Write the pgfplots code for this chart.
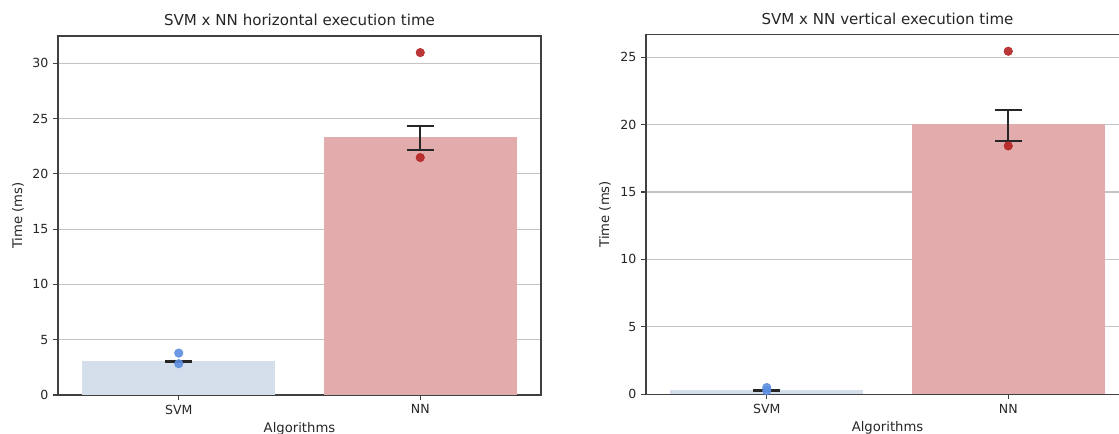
\documentclass[border=0pt]{standalone}
\usepackage{pgfplots}
\pgfplotsset{compat=1.18}
\usepackage{fontspec}
\setmainfont{DejaVu Sans}

\definecolor{svmbar}{RGB}{213,223,235}
\definecolor{nnbar}{RGB}{227,172,172}
\definecolor{svmpt}{RGB}{92,142,224}
\definecolor{nnpt}{RGB}{180,34,34}
\definecolor{spine}{RGB}{64,64,64}
\definecolor{gridc}{RGB}{196,196,196}
\definecolor{txt}{RGB}{38,38,38}

\pgfplotsset{
  exectime/.style={
    scale only axis, width=362.25pt,
    xmin=-0.5, xmax=1.5, ymin=0,
    xtick={0,1}, xticklabels={SVM,NN},
    ytick distance=5,
    tick pos=left, tick align=outside,
    major tick length=3.75pt,
    every tick/.style={spine, line width=0.8pt},
    axis line style={spine, line width=0.8pt},
    ymajorgrids, grid style={gridc, line width=0.8pt},
    ticklabel style={font=\fontsize{9.4}{11}\selectfont, text=txt},
    /pgf/number format/assume math mode=true,
    label style={font=\fontsize{9.9}{12}\selectfont, text=txt},
    title style={font=\fontsize{11.3}{13}\selectfont, text=txt,
      at={(axis description cs:0.5,1)}, anchor=base, yshift=1.5pt},
    xlabel={Algorithms},
    xlabel style={at={(axis description cs:0.5,0)}, anchor=base, yshift=-27.75pt},
    ylabel={Time (ms)},
    errbar/.style={draw=none, mark=none, forget plot,
      error bars/.cd, y dir=both, y explicit,
      error bar style={txt, line width=1.5pt},
      error mark options={txt, line width=1.5pt, mark size=10.3pt, rotate=90}},
  },
}

\begin{document}
\begin{tikzpicture}
\useasboundingbox (0,0) rectangle (839.25pt,-325.5pt);

% horizontal
\begin{axis}[exectime, at={(43.5pt,-296.25pt)}, anchor=south west,
    height=269.25pt, ymax=32.46,
    title={SVM x NN horizontal execution time},
    ylabel style={at={(axis description cs:-0.0828,0.5)}, anchor=center}]
  \addplot[ybar, bar width=0.8, bar shift=0pt, fill=svmbar, draw=none]
    coordinates {(0,3.03)};
  \addplot[ybar, bar width=0.8, bar shift=0pt, fill=nnbar, draw=none]
    coordinates {(1,23.34)};
  \addplot[only marks, mark=*, mark size=3.2pt, svmpt, fill opacity=0.9, draw opacity=0.9]
    coordinates {(0,3.79) (0,2.83)};
  \addplot[only marks, mark=*, mark size=3.2pt, nnpt, fill opacity=0.9, draw opacity=0.9]
    coordinates {(1,30.96) (1,21.47)};
  \addplot[errbar] coordinates {
    (0,3.03) += (0,0.06) -= (0,0.06)
    (1,23.34) += (0,0.99) -= (0,1.15)};
\end{axis}

% vertical
\begin{axis}[exectime, at={(484.5pt,-295.7pt)}, anchor=south west,
    height=270pt, ymax=26.7,
    title={SVM x NN vertical execution time},
    ylabel style={at={(axis description cs:-0.0849,0.5)}, anchor=center}]
  \addplot[ybar, bar width=0.8, bar shift=0pt, fill=svmbar, draw=none]
    coordinates {(0,0.34)};
  \addplot[ybar, bar width=0.8, bar shift=0pt, fill=nnbar, draw=none]
    coordinates {(1,20.03)};
  \addplot[only marks, mark=*, mark size=3.2pt, svmpt, fill opacity=0.9, draw opacity=0.9]
    coordinates {(0,0.50) (0,0.26)};
  \addplot[only marks, mark=*, mark size=3.2pt, nnpt, fill opacity=0.9, draw opacity=0.9]
    coordinates {(1,25.44) (1,18.42)};
  \addplot[errbar] coordinates {
    (0,0.34) += (0,0.0) -= (0,0.08)
    (1,20.03) += (0,1.04) -= (0,1.24)};
\end{axis}
\end{tikzpicture}
\end{document}
